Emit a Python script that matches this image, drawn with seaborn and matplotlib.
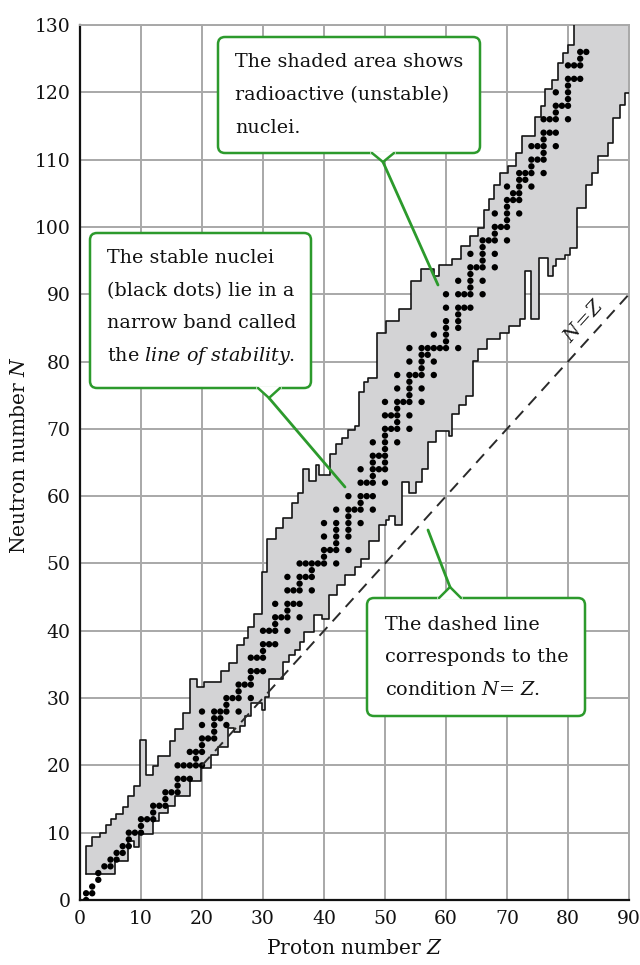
import numpy as np
import matplotlib
matplotlib.use("Agg")
import matplotlib.pyplot as plt
import seaborn as sns
from matplotlib.patches import FancyBboxPatch, Polygon
from matplotlib.transforms import Affine2D

sns.set_theme(style="white")
plt.rcParams['font.family'] = ['DejaVu Serif']
plt.rcParams['mathtext.fontset'] = 'custom'
plt.rcParams['mathtext.rm'] = 'DejaVu Serif'
plt.rcParams['mathtext.it'] = 'DejaVu Serif:italic'

# ---------------- data ----------------
x_ticks = list(range(0, 91, 10))
y_ticks = list(range(0, 131, 10))

# upper (neutron-rich) edge of the band of known nuclei: step starts (Z) and levels (N)
upper_Z = [1.0, 2.0, 3.3, 4.2, 5.0, 5.9, 7.0, 7.9, 8.9, 9.9, 10.9, 12.0, 12.8, 14.7,
           15.6, 16.9, 18.0, 19.1, 20.4, 23.1, 24.4, 25.8, 26.9, 27.6, 28.5, 29.8,
           30.6, 32.2, 33.3, 34.7, 35.8, 36.6, 37.5, 38.7, 39.2, 41.0, 41.9, 43.0,
           43.9, 45.0, 45.7, 46.6, 47.2, 48.7, 50.1, 52.3, 54.2, 55.9, 58.1, 58.9,
           61.0, 62.5, 64.0, 65.2, 66.2, 67.1, 67.9, 68.8, 70.2, 71.5, 72.4, 74.6,
           75.6, 76.3, 77.3, 78.4, 79.2, 80.0, 81.0]
upper_N = [8.0, 9.3, 10.0, 11.2, 12.0, 12.8, 13.8, 15.5, 16.9, 23.8, 18.5, 19.9, 21.4, 23.6,
           25.4, 27.8, 32.8, 31.6, 32.4, 34.0, 35.2, 37.9, 39.0, 40.6, 42.5, 48.8,
           53.7, 55.2, 56.7, 59.0, 60.5, 64.0, 62.2, 64.7, 63.1, 66.3, 67.8, 68.7,
           69.8, 70.4, 75.5, 77.0, 77.5, 84.3, 86.0, 87.8, 92.0, 93.7, 92.7, 94.3,
           95.2, 97.2, 98.6, 99.8, 102.5, 104.1, 106.3, 108.0, 109.0, 111.0, 113.5, 116.3,
           118.0, 120.5, 121.8, 124.3, 125.8, 127.0, 130.0]

# lower (proton-rich) edge of the band
lower_Z = [1.0, 5.8, 7.9, 8.8, 9.7, 11.9, 13.0, 14.4, 15.5, 18.0, 19.9, 21.5, 22.6,
           24.2, 25.3, 26.2, 27.1, 28.1, 29.9, 30.3, 31.0, 33.3, 34.2, 35.3, 36.1,
           36.8, 38.3, 39.7, 40.8, 42.1, 43.5, 45.1, 46.0, 47.3, 49.0, 50.1, 50.6,
           51.7, 52.8, 53.9, 55.0, 56.1, 57.1, 58.3, 60.5, 61.0, 62.2, 63.3, 64.4,
           65.2, 66.8, 68.8, 70.4, 72.1, 72.9, 74.0, 75.3, 76.7, 77.5, 78.1, 79.5,
           80.3, 81.4, 83.0, 83.9, 84.9, 86.6, 87.4, 88.5, 89.3]
lower_N = [3.8, 5.8, 8.8, 7.9, 9.8, 11.7, 13.0, 14.0, 15.4, 17.7, 19.6, 21.6, 22.8,
           25.6, 25.0, 25.8, 27.3, 29.3, 28.3, 30.2, 32.9, 35.4, 36.4, 37.2, 38.4,
           39.8, 42.3, 41.8, 45.3, 46.8, 48.3, 49.5, 50.7, 53.4, 55.7, 56.4, 57.1,
           55.7, 62.1, 60.4, 62.1, 64.1, 68.0, 69.7, 69.0, 72.2, 73.5, 74.9, 80.1,
           81.8, 83.4, 84.3, 85.3, 86.3, 93.5, 86.3, 95.4, 92.7, 94.2, 95.2, 95.9,
           96.9, 102.8, 106.3, 108.0, 110.5, 112.5, 116.2, 118.1, 119.9]

# stable nuclei: proton number and the neutron numbers of its stable isotopes
stable_elements = [1, 2, 3, 4, 5, 6, 7, 8, 9, 10, 11, 12, 13, 14, 15, 16, 17, 18, 19, 20,
                   21, 22, 23, 24, 25, 26, 27, 28, 29, 30, 31, 32, 33, 34, 35, 36, 37, 38,
                   39, 40, 41, 42, 44, 45, 46, 47, 48, 49, 50, 51, 52, 53, 54, 55, 56, 57,
                   58, 59, 60, 62, 63, 64, 65, 66, 67, 68, 69, 70, 71, 72, 73, 74, 75, 76,
                   77, 78, 79, 80, 81, 82, 83]
stable_neutrons = [[0, 1], [1, 2], [3, 4], [5], [5, 6], [6, 7], [7, 8], [8, 9, 10], [10],
                   [10, 11, 12], [12], [12, 13, 14], [14], [14, 15, 16], [16], [16, 17, 18, 20],
                   [18, 20], [18, 20, 22], [20, 21, 22], [20, 22, 23, 24, 26, 28], [24],
                   [24, 25, 26, 27, 28], [27, 28], [26, 28, 29, 30], [30], [28, 30, 31, 32],
                   [32], [30, 32, 33, 34, 36], [34, 36], [34, 36, 37, 38, 40], [38, 40],
                   [38, 40, 41, 42, 44], [42], [40, 42, 43, 44, 46, 48], [44, 46],
                   [42, 44, 46, 47, 48, 50], [48, 50], [46, 48, 49, 50], [50],
                   [50, 51, 52, 54, 56], [52], [50, 52, 53, 54, 55, 56, 58],
                   [52, 54, 55, 56, 57, 58, 60], [58], [56, 58, 59, 60, 62, 64], [60, 62],
                   [58, 60, 62, 63, 64, 65, 66, 68], [64, 66],
                   [62, 64, 65, 66, 67, 68, 69, 70, 72, 74], [70, 72],
                   [68, 70, 71, 72, 73, 74, 76, 78], [74], [70, 72, 74, 75, 76, 77, 78, 80, 82],
                   [78], [74, 76, 78, 79, 80, 81, 82], [81, 82], [78, 80, 82, 84], [82],
                   [82, 83, 84, 85, 86, 88, 90], [82, 85, 86, 87, 88, 90, 92], [88, 90],
                   [88, 90, 91, 92, 93, 94, 96], [94], [90, 92, 94, 95, 96, 97, 98], [98],
                   [94, 96, 98, 99, 100, 102], [100], [98, 100, 101, 102, 103, 104, 106],
                   [104, 105], [102, 104, 105, 106, 107, 108], [107, 108],
                   [106, 108, 109, 110, 112], [110, 112], [108, 110, 111, 112, 113, 114, 116],
                   [114, 116], [112, 114, 116, 117, 118, 120], [118],
                   [116, 118, 119, 120, 121, 122, 124], [122, 124], [122, 124, 125, 126], [126]]

nz_line_Z = [20, 90]

# ---------------- figure ----------------
W, H = 640, 965
fig = plt.figure(figsize=(W / 100, H / 100), dpi=100)
ax = fig.add_axes([80 / W, 1 - 900 / H, (629 - 80) / W, (900 - 25) / H])
ax.set_xlim(0, 90)
ax.set_ylim(0, 130)

GRID = '#a8a8a8'
ax.set_xticks(x_ticks)
ax.set_yticks(y_ticks)
ax.grid(True, color=GRID, lw=1.4)
ax.set_axisbelow(True)
for s in ['left', 'bottom']:
    ax.spines[s].set_color('#111111')
    ax.spines[s].set_linewidth(1.6)
for s in ['top', 'right']:
    ax.spines[s].set_color(GRID)
    ax.spines[s].set_linewidth(1.4)
ax.tick_params(length=0, labelsize=13.5, pad=7, colors='#111111')


def step_vertices(zs, ns, z_end):
    xs, ys = [], []
    for i, (z, n) in enumerate(zip(zs, ns)):
        z2 = zs[i + 1] if i + 1 < len(zs) else z_end
        xs += [z, z2]
        ys += [n, n]
    return xs, ys


ux, uy = step_vertices(upper_Z, upper_N, 90)
lx, ly = step_vertices(lower_Z, lower_N, 90)
poly_x = ux + lx[::-1]
poly_y = uy + ly[::-1]
ax.fill(poly_x, poly_y, color='#d3d3d5', lw=0, zorder=2)
ax.plot([lower_Z[0]] + ux[:-1], [lower_N[0]] + uy[:-1], color='#151515', lw=1.2, zorder=3)
ax.plot(lx, ly, color='#151515', lw=1.2, zorder=3)

# stable nuclei
sZ = [z for z, ns in zip(stable_elements, stable_neutrons) for _ in ns]
sN = [n for ns in stable_neutrons for n in ns]
sns.scatterplot(x=sZ, y=sN, ax=ax, s=21, color='black', edgecolor='none', linewidth=0, zorder=4)

# N = Z line
ax.plot(nz_line_Z, nz_line_Z, color='#2a2a2a', lw=1.4, ls=(0, (6, 4)), zorder=5)
ax.text(82.6, 86.0, '$N\\!=\\!Z$', rotation=48, ha='center', va='center', fontsize=14,
        color='#1a1a1a', zorder=6)

# axis labels
fig.text(354 / W, 1 - 948 / H, 'Proton number $Z$', ha='center', va='center', fontsize=14.5,
         color='#111111')
fig.text(20 / W, 1 - 455 / H, 'Neutron number $N$', ha='center', va='center', rotation=90,
         fontsize=14.5, color='#111111')

# ---------------- callouts (pixel coordinates) ----------------
PIX = Affine2D().scale(1, -1).translate(0, H)
GREEN = '#2c9a2c'


def callout(x0, y0, x1, y1, notch_x, notch_side, tip_dy, target, lines, tx, ty0, dy):
    box = FancyBboxPatch((x0, y0), x1 - x0, y1 - y0,
                         boxstyle='round,pad=0,rounding_size=7',
                         transform=PIX, facecolor='white', edgecolor=GREEN, lw=1.8,
                         zorder=10)
    fig.patches.append(box)
    ey = y1 if notch_side == 'bottom' else y0
    tipy = ey + tip_dy if notch_side == 'bottom' else ey - tip_dy
    hw = 10
    tri = Polygon([(notch_x - hw, ey), (notch_x, tipy), (notch_x + hw, ey)], closed=True,
                  transform=PIX, facecolor='white', edgecolor='none', zorder=11)
    fig.patches.append(tri)
    fig.lines.append(plt.Line2D([notch_x - hw - 1, notch_x + hw + 1], [ey, ey], transform=PIX,
                                color='white', lw=2.6, zorder=11))
    fig.lines.append(plt.Line2D([notch_x - hw - 1, notch_x, notch_x + hw + 1],
                                [ey, tipy, ey], transform=PIX, color=GREEN, lw=1.8,
                                zorder=12, solid_joinstyle='miter'))
    fig.lines.append(plt.Line2D([notch_x, target[0]], [tipy, target[1]], transform=PIX,
                                color=GREEN, lw=2.0, zorder=12))
    for i, t in enumerate(lines):
        fig.text(tx, ty0 + i * dy, t, transform=PIX, ha='left', va='center', fontsize=13.8,
                 color='#111111', zorder=13)


callout(218, 37, 480, 153, 383, 'bottom', 9, (438, 285),
        ['The shaded area shows', 'radioactive (unstable)', 'nuclei.'], 235, 62, 33)
callout(90, 233, 311, 388, 269, 'bottom', 10, (345, 487),
        ['The stable nuclei', '(black dots) lie in a', 'narrow band called',
         'the $\\mathit{line\\ of\\ stability}$.'], 107, 258, 32.7)
callout(367, 598, 585, 716, 450, 'top', 11, (428, 530),
        ['The dashed line', 'corresponds to the', 'condition $N$= $Z$.'], 385, 625, 32.5)

fig.savefig('out.png', dpi=100)
